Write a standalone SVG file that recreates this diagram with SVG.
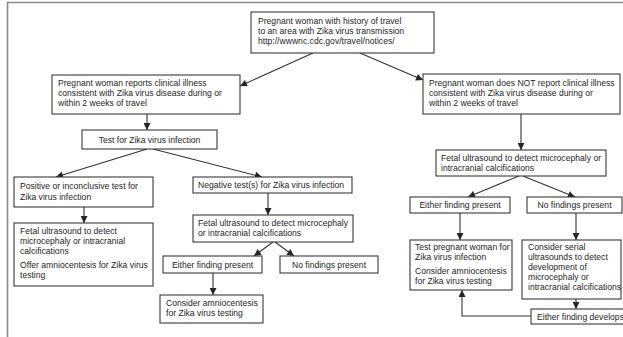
<svg xmlns="http://www.w3.org/2000/svg" width="623" height="337" viewBox="0 0 623 337">
<style>
.box{fill:#fff;stroke:#3a3a3a;stroke-width:1.1}
text{font-family:"Liberation Sans",Arial,sans-serif;font-size:8.6px;fill:#262626}
.c{text-anchor:middle}
.ln{stroke:#333;stroke-width:1.1;fill:none}
.frame{stroke:#8a8a8a;stroke-width:1.6;fill:none}
</style>
<defs>
<marker id="ah" viewBox="0 0 10 10" refX="10" refY="5" markerWidth="8" markerHeight="7" markerUnits="userSpaceOnUse" orient="auto">
<path d="M0,0 L10,5 L0,10 Z" fill="#262626"/>
</marker>
</defs>
<rect width="623" height="337" fill="#fff"/>
<path class="frame" d="M7.5,337 V2.5 H623"/>

<g id="connectors">
<line class="ln" x1="313" y1="53" x2="240" y2="86" marker-end="url(#ah)"/>
<line class="ln" x1="360" y1="53" x2="423" y2="80" marker-end="url(#ah)"/>
<line class="ln" x1="147" y1="114" x2="147" y2="130" marker-end="url(#ah)"/>
<line class="ln" x1="147" y1="149" x2="56" y2="177" marker-end="url(#ah)"/>
<line class="ln" x1="153" y1="149" x2="262" y2="177" marker-end="url(#ah)"/>
<line class="ln" x1="84" y1="207" x2="84" y2="223" marker-end="url(#ah)"/>
<line class="ln" x1="268" y1="193" x2="268" y2="215" marker-end="url(#ah)"/>
<line class="ln" x1="273" y1="242" x2="254" y2="256" marker-end="url(#ah)"/>
<line class="ln" x1="275" y1="242" x2="294" y2="256" marker-end="url(#ah)"/>
<line class="ln" x1="213" y1="273" x2="213" y2="295" marker-end="url(#ah)"/>
<line class="ln" x1="521" y1="114" x2="521" y2="150" marker-end="url(#ah)"/>
<line class="ln" x1="519" y1="176" x2="468" y2="197" marker-end="url(#ah)"/>
<line class="ln" x1="523" y1="176" x2="575" y2="197" marker-end="url(#ah)"/>
<line class="ln" x1="460" y1="213" x2="460" y2="240" marker-end="url(#ah)"/>
<line class="ln" x1="576" y1="213" x2="576" y2="240" marker-end="url(#ah)"/>
<line class="ln" x1="576" y1="299" x2="576" y2="309" marker-end="url(#ah)"/>
<path class="ln" d="M531,316 H462 V290" marker-end="url(#ah)"/>
</g>

<g id="n-top">
<rect class="box" x="251" y="12" width="183" height="41"/>
<text x="258" y="23.5">Pregnant woman with history of travel</text>
<text x="258" y="33.5">to an area with Zika virus transmission</text>
<text x="258" y="43.5">http://wwwnc.cdc.gov/travel/notices/</text>
</g>
<g id="n-illness">
<rect class="box" x="52" y="75" width="188" height="39"/>
<text x="58" y="86">Pregnant woman reports clinical illness</text>
<text x="58" y="96">consistent with Zika virus disease during or</text>
<text x="58" y="106">within 2 weeks of travel</text>
</g>
<g id="n-noillness">
<rect class="box" x="423" y="74" width="197" height="40"/>
<text x="429" y="86">Pregnant woman does NOT report clinical illness</text>
<text x="429" y="96">consistent with Zika virus disease during or</text>
<text x="429" y="106">within 2 weeks of travel</text>
</g>
<g id="n-test">
<rect class="box" x="82" y="130" width="135" height="19"/>
<text class="c" x="149.5" y="142.5">Test for Zika virus infection</text>
</g>
<g id="n-positive">
<rect class="box" x="14" y="177" width="139" height="30"/>
<text x="20" y="189">Positive or inconclusive test for</text>
<text x="20" y="199.5">Zika virus infection</text>
</g>
<g id="n-fetal-pos">
<rect class="box" x="14" y="223" width="139" height="63"/>
<text x="20" y="234">Fetal ultrasound to detect</text>
<text x="20" y="244">microcephaly or intracranial</text>
<text x="20" y="254">calcifications</text>
<text x="20" y="268">Offer amniocentesis for Zika virus</text>
<text x="20" y="278">testing</text>
</g>
<g id="n-negative">
<rect class="box" x="193" y="177" width="159" height="16"/>
<text x="198" y="188">Negative test(s) for Zika virus infection</text>
</g>
<g id="n-fetal-neg">
<rect class="box" x="193" y="215" width="160" height="27"/>
<text x="198" y="226">Fetal ultrasound to detect microcephaly</text>
<text x="198" y="236">or intracranial calcifications</text>
</g>
<g id="n-either-neg">
<rect class="box" x="163" y="256" width="99" height="17"/>
<text class="c" x="212.5" y="267.5">Either finding present</text>
</g>
<g id="n-nofind-neg">
<rect class="box" x="280" y="256" width="98" height="17"/>
<text class="c" x="329" y="267.5">No findings present</text>
</g>
<g id="n-amnio-neg">
<rect class="box" x="160" y="295" width="103" height="28"/>
<text x="166" y="306">Consider amniocentesis</text>
<text x="166" y="316">for Zika virus testing</text>
</g>
<g id="n-fetal-no">
<rect class="box" x="436" y="150" width="170" height="26"/>
<text x="441" y="161">Fetal ultrasound to detect microcephaly or</text>
<text x="441" y="171">intracranial calcifications</text>
</g>
<g id="n-either-no">
<rect class="box" x="410" y="197" width="100" height="16"/>
<text class="c" x="460" y="208">Either finding present</text>
</g>
<g id="n-nofind-no">
<rect class="box" x="527" y="197" width="95" height="16"/>
<text class="c" x="574.5" y="208">No findings present</text>
</g>
<g id="n-testpreg">
<rect class="box" x="410" y="240" width="102" height="50"/>
<text x="415" y="250">Test pregnant woman for</text>
<text x="415" y="260">Zika virus infection</text>
<text x="415" y="274">Consider amniocentesis</text>
<text x="415" y="284">for Zika virus testing</text>
</g>
<g id="n-serial">
<rect class="box" x="522" y="240" width="99" height="59"/>
<text x="528" y="250">Consider serial</text>
<text x="528" y="260">ultrasounds to detect</text>
<text x="528" y="270">development of</text>
<text x="528" y="280">microcephaly or</text>
<text x="528" y="290">intracranial calcifications</text>
</g>
<g id="n-develops">
<rect class="box" x="531" y="309" width="95" height="15"/>
<text x="537" y="320">Either finding develops</text>
</g>
</svg>
